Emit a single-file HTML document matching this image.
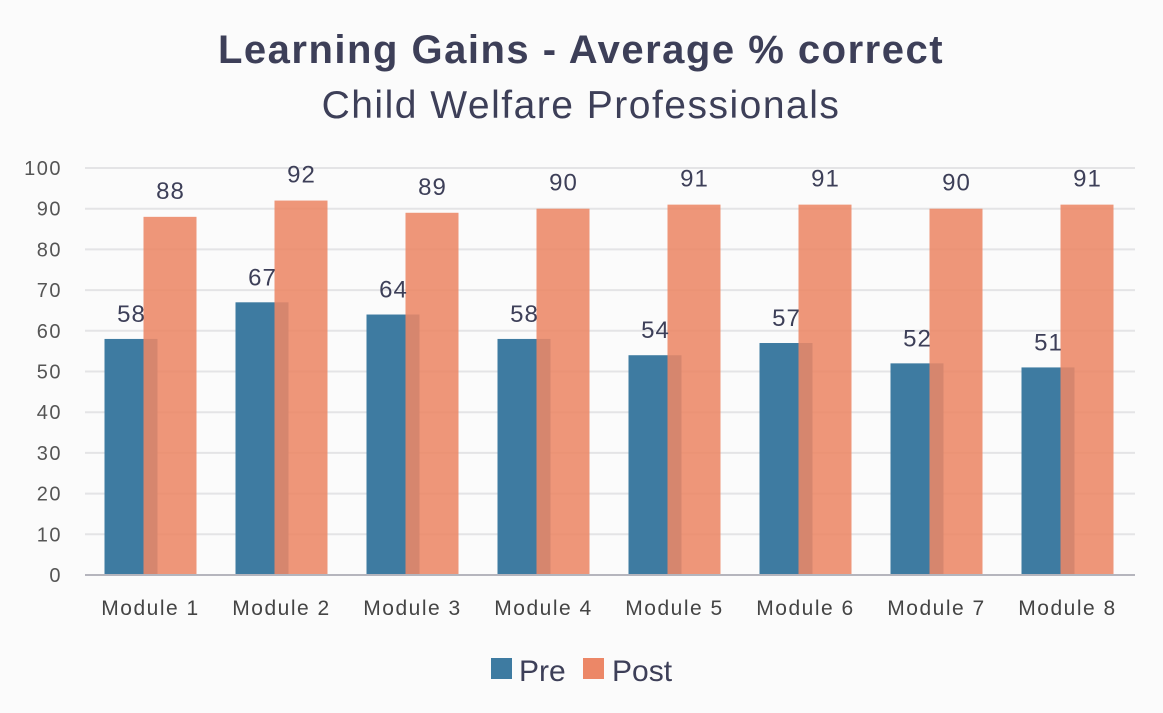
<!DOCTYPE html>
<html><head><meta charset="utf-8"><style>
body{margin:0;background:#fbfbfb;}
svg{display:block;font-family:"Liberation Sans",sans-serif;}
</style></head><body>
<svg width="1163" height="713">
<rect width="1163" height="713" fill="#fbfbfb"/>
<text x="581" y="63" text-anchor="middle" font-size="40" font-weight="bold" fill="#3d3f58" letter-spacing="1.5">Learning Gains - Average % correct</text>
<text x="581" y="118" text-anchor="middle" font-size="39" fill="#3d3f58" letter-spacing="1.5">Child Welfare Professionals</text>
<g id="grid"></g><g id="bars"></g><g id="labels"></g>
<line x1="85" x2="1135" y1="575" y2="575" stroke="#b5b5bd" stroke-width="2"/>
<rect x="491" y="658" width="21" height="21" fill="#3e7ba1"/>
<text x="519" y="681" font-size="30" fill="#3d3f58">Pre</text>
<rect x="583" y="658" width="21" height="21" fill="#ec8767"/>
<text x="612" y="681" font-size="30" fill="#3d3f58">Post</text>
</svg>
<script>
const categories=["Module 1","Module 2","Module 3","Module 4","Module 5","Module 6","Module 7","Module 8"];
const preValues=[58,67,64,58,54,57,52,51];
const postValues=[88,92,89,90,91,91,90,91];
const yTicks=[0,10,20,30,40,50,60,70,80,90,100];
const NS="http://www.w3.org/2000/svg";
const y0=575,y100=168,left=85,step=131;
const y=v=>y0-(y0-y100)*v/100;
const cx=i=>left+step*(i+0.5);
function mk(tag,attrs,parent,txt){const e=document.createElementNS(NS,tag);for(const k in attrs)e.setAttribute(k,attrs[k]);if(txt!==undefined)e.textContent=txt;document.getElementById(parent).appendChild(e);return e;}
yTicks.forEach(t=>{
 const l=mk("line",{x1:left,x2:1135,y1:y(t),y2:y(t),stroke:"#e4e4e6","stroke-width":2},"grid");
 
 
 const tx=mk("text",{x:62,y:y(t)+7,"text-anchor":"end","font-size":20,"letter-spacing":1.5,fill:"#555"},"grid",t);
 
 
});
categories.forEach((c,i)=>{
 const c0=cx(i);
 const pre=mk("rect",{x:c0-46,y:y(preValues[i]),width:53,height:y0-y(preValues[i]),fill:"#3e7ba1"},"bars");
 
 
 const post=mk("rect",{x:c0-7,y:y(postValues[i]),width:53,height:y0-y(postValues[i]),fill:"#ec8767","fill-opacity":0.88},"bars");
 
 
 const pl=mk("text",{x:c0-19,y:y(preValues[i])-17,"text-anchor":"middle","font-size":24,"letter-spacing":1,fill:"#3d3f58"},"labels",preValues[i]);
 
 
 const ql=mk("text",{x:c0+20,y:y(postValues[i])-18,"text-anchor":"middle","font-size":24,"letter-spacing":1,fill:"#3d3f58"},"labels",postValues[i]);
 
 
 const xl=mk("text",{x:c0,y:615,"text-anchor":"middle","font-size":21,"letter-spacing":1.5,fill:"#444"},"labels",c);
 
 
});
</script>
</body></html>
